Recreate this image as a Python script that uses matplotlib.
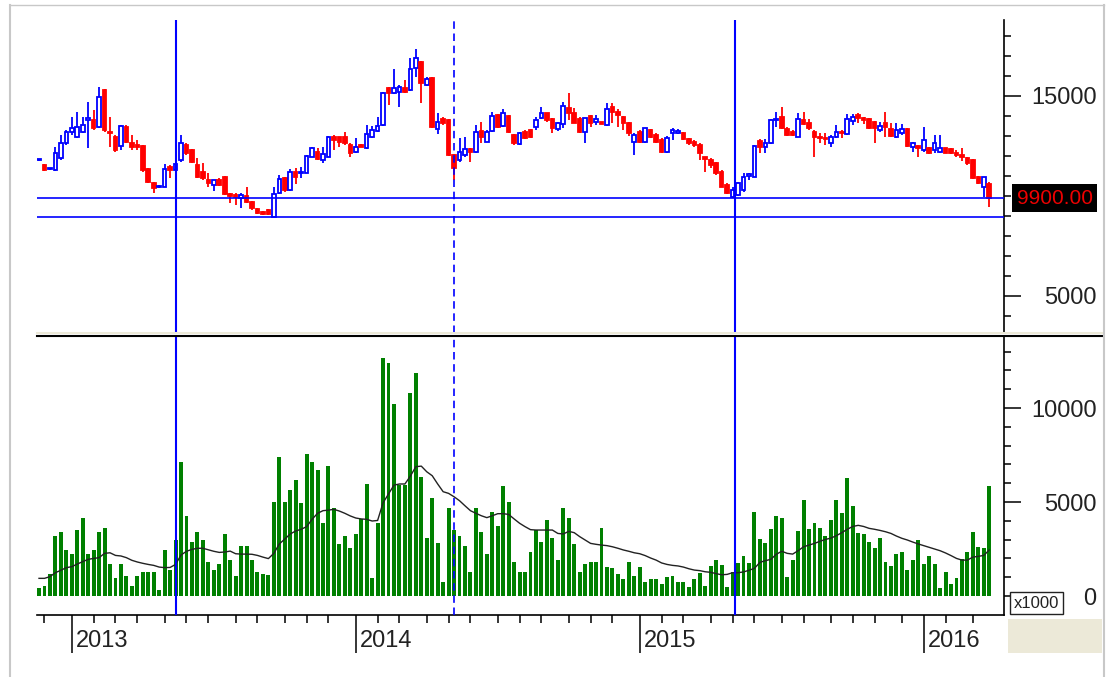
import numpy as np
import pandas as pd
import matplotlib
matplotlib.use("Agg")
import matplotlib.pyplot as plt
from matplotlib.lines import Line2D
from matplotlib.patches import Rectangle
from matplotlib.ticker import MultipleLocator, FixedLocator

plt.rcParams['font.family'] = ['Liberation Sans', 'DejaVu Sans']

# weekly candles, first week starting 2012-11-26
start_date = '2012-11-26'

opens = [11780, 11550, 11330, 11300, 11880, 12630, 13220, 12970, 13220, 13800,
         13800, 13470, 15300, 13220, 12970, 12500, 13470, 12630, 12550, 12500,
         11330, 10630, 10470, 10470, 11470, 11300, 11800, 12550, 12300, 11550,
         11220, 10800, 10550, 10800, 10970, 10100, 10050, 9880, 10000, 9720,
         9330, 9220, 9300, 8970, 10130, 10880, 10300, 11220, 11130, 11170,
         11970, 12220, 11800, 11970, 12970, 12930, 12970, 12550, 12220, 12530,
         12380, 12970, 13270, 13550, 15380, 15130, 15220, 15380, 15300, 16380,
         16720, 15550, 15880, 13330, 13830, 13800, 12050, 11800, 12050, 12330,
         12220, 13270, 12720, 13270, 14050, 13500, 14000, 13050, 12600, 13220,
         13300, 13470, 13880, 14130, 13830, 13330, 13600, 14380, 14170, 13830,
         13220, 14000, 13720, 13680, 13550, 14470, 14220, 13970, 13670, 12720,
         13220, 12720, 13300, 13050, 12800, 12220, 13130, 13170, 13130, 12830,
         12720, 12550, 11930, 11800, 11630, 11220, 10550, 9970, 10050, 10300,
         11020, 10970, 12770, 12430, 12630, 13800, 13930, 13330, 13220, 12970,
         13800, 13630, 13220, 12970, 12920, 12630, 12970, 13220, 13100, 13770,
         14050, 13880, 13830, 13720, 13300, 13630, 13330, 12970, 13130, 13330,
         12430, 12500, 12300, 12380, 12300, 12220, 12380, 12330, 12170, 12050,
         11880, 11800, 10930, 10470, 10600]

highs = [11850, 11600, 11400, 12430, 13050, 13300, 13970, 14220, 13970, 14720,
         14300, 15470, 15350, 13970, 13050, 13550, 13550, 13050, 12800, 12550,
         11380, 10700, 10550, 11600, 11550, 11720, 13050, 12630, 12330, 11880,
         11630, 11130, 10800, 10900, 11000, 10130, 10130, 10130, 10470, 9750,
         9380, 9250, 9330, 10470, 11050, 10970, 11330, 11380, 11470, 12050,
         12470, 12380, 12470, 13000, 13050, 12970, 13220, 12630, 12880, 12600,
         13550, 13500, 13930, 15220, 15470, 16330, 15550, 15800, 16880, 17330,
         16770, 15930, 15930, 14130, 13930, 13830, 12100, 12880, 12950, 12380,
         13550, 13720, 13300, 14220, 14100, 14330, 14050, 13100, 13220, 13300,
         13330, 13930, 14430, 14170, 13880, 13720, 14720, 15130, 14380, 13970,
         13920, 14050, 14050, 13720, 14630, 14630, 14330, 14000, 13720, 13130,
         13300, 13420, 13330, 13130, 12880, 13000, 13380, 13330, 13220, 12880,
         12800, 12630, 11970, 11880, 11720, 11300, 10630, 10470, 10720, 11130,
         11130, 12550, 12830, 12830, 13830, 14220, 14470, 13430, 13300, 14130,
         14220, 13830, 13300, 13170, 13130, 13050, 13550, 13300, 14100, 14100,
         14130, 13970, 13880, 13770, 13720, 14220, 13630, 13630, 13600, 13380,
         12720, 12550, 13470, 12470, 13050, 13050, 12420, 12380, 12300, 12380,
         11970, 11830, 11000, 10970, 10720]

lows = [11750, 11250, 11300, 11250, 11800, 12550, 13050, 12880, 13130, 12380,
        13300, 13380, 13220, 12470, 12220, 12300, 12630, 12300, 12300, 11220,
        10630, 10130, 10420, 10430, 10880, 11300, 11720, 12050, 11630, 10880,
        10800, 10470, 10270, 10500, 10050, 9630, 9550, 9380, 9630, 9300,
        9100, 9050, 9050, 8950, 10100, 10220, 10270, 10600, 10880, 11130,
        11930, 11800, 11630, 11930, 12300, 12470, 12550, 11970, 12130, 12450,
        12330, 12880, 13220, 13500, 14550, 15100, 14470, 15130, 15270, 15970,
        14670, 15500, 13400, 13100, 13550, 12000, 10800, 11720, 11970, 11720,
        12170, 12630, 12680, 13220, 13380, 13430, 13130, 12550, 12550, 12830,
        12880, 13300, 13830, 13720, 13130, 13270, 13380, 13800, 13630, 13130,
        12670, 13470, 13550, 13600, 13500, 13630, 13470, 13300, 13000, 12050,
        12630, 12670, 12880, 12630, 12170, 12170, 12800, 13100, 12800, 12550,
        12470, 11800, 11220, 11380, 11050, 10430, 10100, 9880, 10000, 10220,
        10800, 10930, 12130, 12170, 12600, 13470, 13330, 13000, 12980, 12930,
        13550, 13300, 11970, 12630, 12550, 12470, 12880, 12880, 13050, 13550,
        13630, 13600, 13330, 12670, 13220, 12970, 12970, 12880, 13050, 12430,
        12220, 11970, 12220, 12100, 12130, 12130, 12130, 12100, 11970, 11770,
        11550, 10830, 10600, 9970, 9470]

closes = [11800, 11300, 11370, 12130, 12630, 13220, 13380, 13470, 13550, 13880,
          13380, 14930, 13300, 13130, 12300, 13520, 12720, 12470, 12470, 11300,
          10720, 10380, 10500, 11330, 11300, 11580, 12630, 12130, 11720, 10970,
          10880, 10630, 10800, 10550, 10100, 10000, 9970, 10050, 9720, 9380,
          9170, 9100, 9100, 10100, 10830, 10300, 11220, 10970, 11220, 12000,
          12380, 11830, 12100, 12930, 12800, 12720, 12630, 12130, 12470, 12470,
          13100, 13300, 13500, 15130, 15130, 15380, 15470, 15220, 16330, 16880,
          15670, 15830, 13470, 13720, 13670, 12050, 11380, 12220, 12330, 12220,
          13220, 12970, 13220, 14000, 13470, 14130, 13220, 12630, 13150, 12880,
          12970, 13800, 14130, 13800, 13380, 13630, 14500, 14130, 13670, 13220,
          13880, 13670, 13830, 13620, 14330, 14220, 14050, 13630, 13130, 13050,
          12720, 13380, 12970, 12720, 12220, 12880, 13300, 13270, 12830, 12630,
          12550, 12170, 11870, 11550, 11130, 10470, 10130, 10300, 10630, 10970,
          11100, 12500, 12430, 12630, 13800, 13830, 13380, 13050, 13050, 13830,
          13600, 13380, 12970, 12880, 12830, 12970, 13220, 13170, 13830, 13930,
          13880, 13800, 13380, 13380, 13500, 13470, 13000, 13300, 13330, 12500,
          12630, 12380, 12800, 12130, 12630, 12380, 12170, 12130, 12050, 11970,
          11630, 10880, 10630, 10930, 9900]

volume = [410, 530, 1170, 3190, 3400, 2450, 2230, 3510, 4130, 2230,
          2450, 3400, 3600, 1700, 940, 1700, 1060, 530, 1060, 1280,
          1280, 1280, 320, 2450, 1380, 2980, 7150, 4260, 2870, 3420,
          2980, 1830, 1380, 1700, 3300, 1910, 1060, 2660, 2660, 1910,
          1280, 1170, 1120, 5020, 7380, 5020, 5640, 6170, 4930, 7550,
          7150, 6700, 3870, 6910, 4660, 2770, 3190, 2550, 3300, 4080,
          5960, 940, 3870, 12640, 12380, 10210, 5900, 5900, 10780, 11840,
          6330, 3070, 5230, 2800, 760, 4700, 3510, 3190, 2660, 1290,
          4660, 3420, 2230, 4490, 3740, 5870, 5020, 1830, 1290, 1290,
          2360, 3510, 2890, 4040, 3100, 1910, 4700, 4170, 2770, 1290,
          1700, 1830, 1830, 3630, 1560, 1470, 1170, 890, 1830, 1060,
          1520, 760, 890, 890, 640, 1030, 1080, 760, 760, 460,
          890, 1210, 530, 1600, 1910, 1650, 460, 1290, 1740, 2130,
          1740, 4490, 3010, 2800, 3550, 4260, 4130, 990, 1910, 3460,
          5110, 3550, 3900, 3630, 3190, 4040, 5110, 4400, 6260, 4790,
          3370, 3300, 2890, 2540, 3070, 1830, 1600, 2220, 2360, 1380,
          1910, 2980, 1700, 2130, 1700, 440, 1290, 640, 940, 1950,
          2360, 3420, 2590, 2540, 5870]

# volume moving average line
volume_ma = [940, 940, 1030, 1240, 1370, 1510, 1560, 1700, 1830, 1950,
             2000, 2040, 2270, 2300, 2160, 2130, 2040, 1900, 1810, 1740,
             1680, 1630, 1540, 1510, 1520, 1680, 2180, 2380, 2480, 2540,
             2540, 2460, 2380, 2320, 2340, 2390, 2250, 2230, 2230, 2220,
             2160, 2070, 1990, 2270, 2770, 3030, 3300, 3460, 3550, 3690,
             4080, 4400, 4540, 4570, 4610, 4520, 4400, 4260, 4150, 4100,
             4080, 3990, 4020, 4960, 5430, 5900, 5960, 5960, 6380, 6880,
             6910, 6610, 6400, 5960, 5550, 5460, 5280, 5070, 4800, 4540,
             4400, 4270, 4170, 4270, 4380, 4380, 4340, 4100, 3870, 3690,
             3530, 3510, 3510, 3510, 3510, 3330, 3300, 3440, 3370, 3160,
             2980, 2800, 2750, 2710, 2680, 2620, 2540, 2450, 2380, 2300,
             2250, 2150, 2020, 1910, 1760, 1680, 1630, 1600, 1540, 1450,
             1380, 1350, 1290, 1260, 1190, 1130, 1150, 1240, 1240, 1280,
             1370, 1470, 1790, 1880, 1950, 2220, 2380, 2270, 2230, 2410,
             2620, 2710, 2800, 2910, 3010, 3080, 3210, 3370, 3550, 3700,
             3760, 3700, 3600, 3550, 3490, 3420, 3330, 3190, 3070, 2980,
             2870, 2770, 2680, 2590, 2500, 2410, 2290, 2150, 2000, 1910,
             1910, 2070, 2110, 2160, 2450]

last_price = 9900
low_line = 8950
marker_weeks = [25, 76, 127.5]   # vertical lines (bar index)
marker_styles = ['-', '--', '-']

W, H = 1117, 677
BLUE = '#0000ff'
RED = '#ff0000'
GREEN = '#008000'


def fx(x):
    return x / W


def fy(y):
    return 1 - y / H


o = np.array(opens, float)
h = np.array(highs, float)
l = np.array(lows, float)
c = np.array(closes, float)
v = np.array(volume, float)
n = len(c)
idx = np.arange(n)
dates = pd.date_range(start_date, periods=n, freq='W-MON')

fig = plt.figure(figsize=(W / 100, H / 100), dpi=100)
axp = fig.add_axes([fx(37), fy(333), fx(1004 - 37), (333 - 20) / H])
axv = fig.add_axes([fx(37), fy(615), fx(1004 - 37), (615 - 337) / H], sharex=axp)

# --- candles
up = c >= o
cols = np.where(up, BLUE, RED)
axp.vlines(idx, l, h, colors=cols, linewidth=1.3, zorder=2)
body_lo = np.minimum(o, c)
body_h = np.maximum(np.abs(c - o), 50)
axp.bar(idx, body_h, bottom=body_lo, width=0.66,
        color=np.where(up, 'white', RED), edgecolor=cols, linewidth=1.3, zorder=3)

axp.axhline(last_price, color=BLUE, lw=1.2, zorder=4)
axp.axhline(low_line, color=BLUE, lw=1.2, zorder=4)

# --- volume
axv.bar(idx, v, width=0.72, color=GREEN, edgecolor='none', zorder=2)
axv.plot(idx, volume_ma, color='#222222', lw=1.0, zorder=3)

for ax in (axp, axv):
    for xm, ls in zip(marker_weeks, marker_styles):
        if ls == '--':
            ax.axvline(xm, color=BLUE, lw=1.2, linestyle=(0, (4.5, 2.8)), zorder=5)
        else:
            ax.axvline(xm, color=BLUE, lw=1.5, zorder=5)
    for s in ('top', 'left', 'bottom'):
        ax.spines[s].set_visible(False)
    ax.spines['right'].set_linewidth(1.2)
    ax.yaxis.tick_right()
    ax.tick_params(axis='y', which='major', length=12.2, width=1.1, pad=54.5,
                   labelsize=17, labelcolor='#222222')
    ax.tick_params(axis='y', which='minor', length=5, width=1.1)

axv.spines['bottom'].set_visible(True)
axv.spines['bottom'].set_linewidth(1.2)

axp.set_xlim(-0.37, 176.7)
axp.set_ylim(3150, 18800)
axv.set_ylim(-1010, 13780)

axp.yaxis.set_major_locator(FixedLocator([5000, 15000]))
axp.yaxis.set_minor_locator(MultipleLocator(1000))
axv.yaxis.set_major_locator(FixedLocator([0, 5000, 10000]))
axv.yaxis.set_minor_locator(FixedLocator(np.arange(0, 14000, 1000)))
for ax in (axp, axv):
    plt.setp(ax.yaxis.get_majorticklabels(), ha='right')

# x ticks: months (minor) and years (major)
month_start = [i for i in range(1, n) if dates[i].month != dates[i - 1].month]
year_start = [i for i in month_start if dates[i].month == 1]
axp.tick_params(axis='x', which='both', bottom=False, labelbottom=False)
axv.xaxis.set_major_locator(FixedLocator(year_start))
axv.xaxis.set_minor_locator(FixedLocator(month_start))
axv.tick_params(axis='x', which='major', length=27, width=1.1, labelbottom=False)
axv.tick_params(axis='x', which='minor', length=5.8, width=1.1)
for i in year_start:
    axv.annotate(str(dates[i].year), xy=(i, 0), xycoords=axv.get_xaxis_transform(),
                 xytext=(2.8, -18.5), textcoords='offset points',
                 ha='left', va='center', fontsize=17, color='#222222')

# price label box
axp.text(1.0525, last_price, '9900.00', transform=axp.get_yaxis_transform(),
         ha='center', va='center', fontsize=15, color='#ee0000', zorder=10,
         bbox=dict(boxstyle='square,pad=0.22', fc='black', ec='none'), clip_on=False)

# x1000 box
axv.text(1.0335, 0.043, 'x1000', transform=axv.transAxes, ha='center', va='center',
         fontsize=12, color='#222222', clip_on=False,
         bbox=dict(boxstyle='square,pad=0.22', fc='white', ec='#222222', lw=1.0))

# separator and frame
fig.add_artist(Line2D([fx(37), fx(1102)], [fy(333), fy(333)], color='#ECE9D8', lw=1.5))
fig.add_artist(Line2D([fx(37), fx(1102)], [fy(335.5), fy(335.5)], color='black', lw=1.5))
fig.add_artist(Rectangle((fx(1008), fy(653)), fx(1102 - 1008), (653 - 619) / H,
                         fc='#ECE9D8', ec='none'))
fig.add_artist(Line2D([fx(10), fx(10)], [fy(5), 0], color='#C8C8C8', lw=1.5))
fig.add_artist(Line2D([fx(10), fx(1104)], [fy(5), fy(5)], color='#C8C8C8', lw=1.0))
fig.add_artist(Line2D([fx(1104), fx(1104)], [fy(5), 0], color='#C8C8C8', lw=1.5))

fig.savefig('out.png', dpi=100)
